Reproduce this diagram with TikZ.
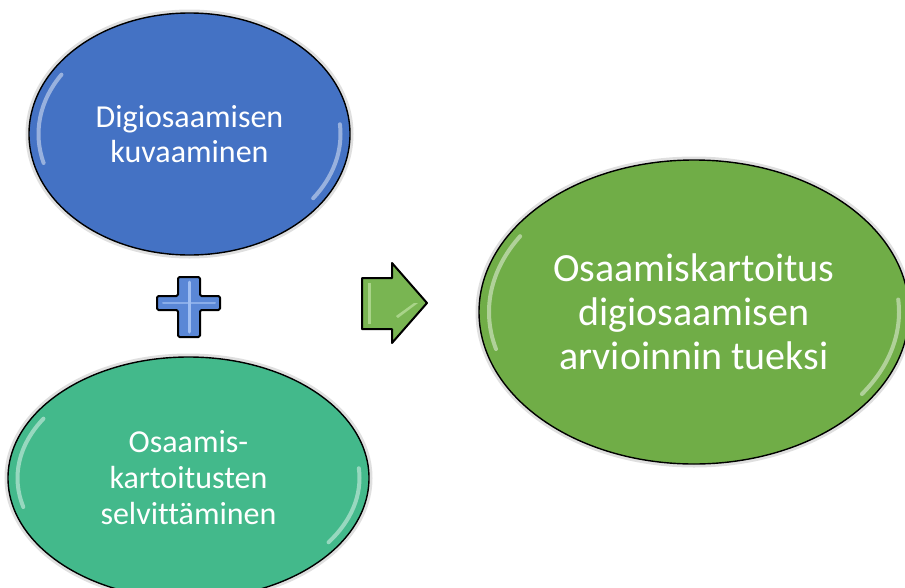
\documentclass[tikz,border=0pt]{standalone}
\usepackage{fontspec}
\setmainfont{Carlito}[Ligatures=NoCommon]
\usetikzlibrary{shapes.geometric}
\definecolor{cblue}{HTML}{4472C4}
\definecolor{cteal}{HTML}{43B98B}
\definecolor{cgreen}{HTML}{70AD47}
\definecolor{pblue}{HTML}{5A87D6}
\definecolor{plight}{HTML}{9FBEF2}
\definecolor{agreen}{HTML}{79B552}
\definecolor{alight}{HTML}{B5DC97}
\begin{document}
\begin{tikzpicture}[x=1pt,y=-1pt,
  oval/.style={ellipse, draw=black, line width=1.4pt, inner sep=0pt, text=white, align=center},
  halo/.style={ellipse, draw=black!35, line width=5pt, opacity=0.35, inner sep=0pt},
  gleam/.style={white, opacity=0.45, line width=4pt, line cap=round},
  symb/.style={draw=black, line width=2pt, line join=round}]
\useasboundingbox (0,0) rectangle (905,587);
\clip (0,0) rectangle (905,587);
\fill[white] (0,0) rectangle (905,587);

% halos
\node[halo, minimum width=323pt, minimum height=244pt] at (189.5,134) {};
\node[halo, minimum width=363pt, minimum height=244pt] at (188.5,478) {};
\node[halo, minimum width=432pt, minimum height=306pt] at (694,312) {};

% ellipses
\node[oval, fill=cblue, minimum width=321pt, minimum height=242pt,
      font=\fontsize{32}{35}\selectfont] (digi) at (189.5,134) {Digiosaamisen\\kuvaaminen};
\node[oval, fill=cteal, minimum width=361pt, minimum height=242pt,
      font=\fontsize{32}{36}\selectfont] (kart) at (188.5,478) {Osaamis-\\kartoitusten\\selvittäminen};
\node[oval, fill=cgreen, minimum width=430pt, minimum height=304pt,
      font=\fontsize{40}{44}\selectfont] (tulos) at (694,312) {Osaamiskartoitus\\digiosaamisen\\arvioinnin tueksi};

% gleams
\draw[gleam] (digi.center) ++(165:151 and 112) arc[start angle=165, end angle=212, x radius=151, y radius=112];
\draw[gleam] (digi.center) ++(-5:151 and 112) arc[start angle=-5, end angle=35, x radius=151, y radius=112];
\draw[gleam] (kart.center) ++(165:171 and 112) arc[start angle=165, end angle=212, x radius=171, y radius=112];
\draw[gleam] (kart.center) ++(-5:171 and 112) arc[start angle=-5, end angle=35, x radius=171, y radius=112];
\draw[gleam] (tulos.center) ++(165:205 and 143) arc[start angle=165, end angle=212, x radius=205, y radius=143];
\draw[gleam] (tulos.center) ++(-5:205 and 143) arc[start angle=-5, end angle=35, x radius=205, y radius=143];

% plus sign
\coordinate (plus) at (189,307);
\filldraw[symb, fill=pblue, rounded corners=1.5pt]
  (178,277) -- (200,277) -- (200,296) -- (220,296) -- (220,310) -- (200,310)
  -- (200,337) -- (178,337) -- (178,310) -- (157,310) -- (157,296) -- (178,296) -- cycle;
\draw[plight, line width=3pt, line cap=round] (plus) ++(0,-25) -- ++(0,50);
\draw[plight, line width=2pt, line cap=round, opacity=0.7] (plus) ++(-26,-4) -- ++(52,0);

% arrow
\coordinate (arr) at (394,303);
\filldraw[symb, fill=agreen]
  (362,278) -- (392,278) -- (392,263) -- (427,303) -- (392,343) -- (392,329) -- (362,329) -- cycle;
\fill[alight, opacity=0.8] (368,283) -- (371,283) -- (371,324) -- (368,324) -- cycle;
\fill[alight, opacity=0.8] (398,318) -- (418,303) -- (414,303) -- (396,316) -- cycle;
\end{tikzpicture}
\end{document}
